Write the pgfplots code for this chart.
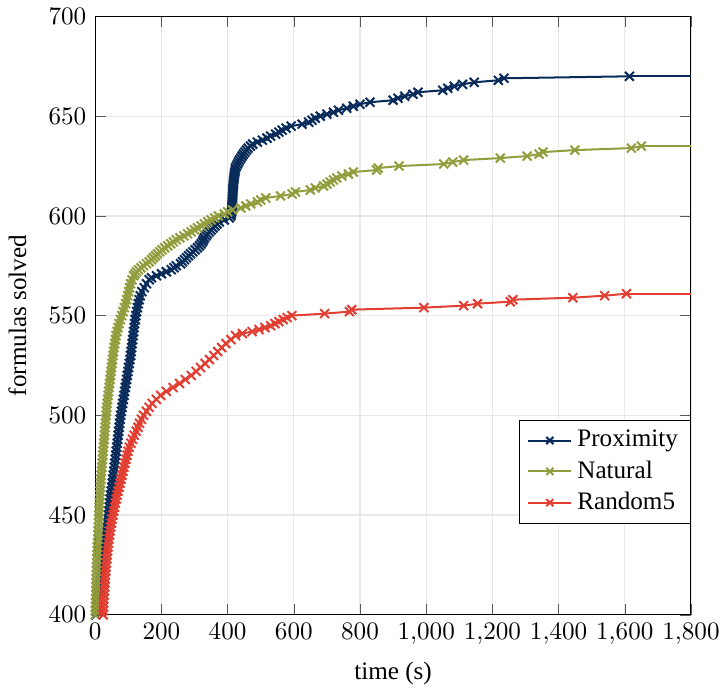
\documentclass[border=0pt]{standalone}
\usepackage{fontspec}
\setmainfont{Liberation Serif}
\usepackage{pgfplots}
\usepackage{pgfplotstable}
\pgfplotsset{compat=1.18}

\definecolor{proxblue}{RGB}{8,43,90}
\definecolor{natgreen}{RGB}{146,157,62}
\definecolor{randred}{RGB}{226,62,50}

% time (s) / formulas solved
\pgfplotstableread{
t n
2 400
3.5 402
5 404
6.5 406
8 408
9.5 410
11 412
12.5 414
14 416
15.5 418
17 420
18.5 422
20 424
21.5 426
23 428
24.5 430
26 432
27.5 434
29 436
30.5 438
32 440
33.5 442
35 444
36.5 446
38 448
39.5 450
41 452
42.5 454
44 456
45.5 458
47 460
48.5 462
50 464
51.5 466
53 468
54.5 470
56 472
57.5 474
59 476
60.5 478
62 480
63.5 482
65 484
66.5 486
68 488
69.5 490
71 492
72.5 494
74 496
75.5 498
77 500
79 502
81 504
83 506
85 508
87 510
89 512
91 514
93 516
95 518
97 520
99 522
101 524
103 526
105 528
107 530
108.5 532
110 534
111.5 536
113 538
114.5 540
116 542
117.5 544
119 546
121 548
123 550
125 552
127.5 554
130 556
133 558
136 560
141 562
148 564
155 566
163 568
170 569
185 570
200 571
215 572
230 573
238 574
245 575
258 576
264 577
270 578
276 579
282 580
288 581
295 582
302 583
309 584
315 585
320 586
324 587
327 588
330 589
335 590
339 591
345 592
350 593
356 594
362 595
368 596
375 597
390 598
405 599
410 600
411 601
412 602
412.5 603
413 604
413.5 605
414 606
414 607
414.5 608
415 609
415 610
415.5 611
415.5 612
416 613
416.5 614
417 615
417.5 616
418 617
418.5 618
419 619
420 620
421 621
422 622
423 623
424 624
427 625
430 626
433 627
436 628
440 629
444 630
448 631
452 632
457 633
462 634
469 635
476 636
490 637
505 638
519 639
530 640
545 641
555 642
565 643
577 644
592 645
625 646
645 647
655 648
665 649
680 650
700 651
720 652
735 653
760 654
780 655
800 656
830 657
900 658
915 659
935 660
960 661
975 662
1050 663
1065 664
1085 665
1110 666
1145 667
1218 668
1235 669
1614 670
}\proximity

\pgfplotstableread{
t n
0 400
0.5 402
1 404
1 406
1.5 408
2 410
2 412
2.5 414
3 416
3 418
3.5 420
4 422
4 424
4.5 426
5 428
5.5 430
6 432
6.5 434
7 436
8 438
8.5 440
9 442
9.5 444
10 446
10.5 448
11 450
11.5 452
12 454
13 456
13.5 458
14 460
15 462
15.5 464
16 466
17 468
18 470
19 472
20 474
21 476
22 478
23 480
24 482
25 484
26 486
27 488
28 490
29 492
30 494
31 496
32 498
33 500
34 502
35 504
36 506
37.5 508
39 510
40.5 512
42 514
43.5 516
45 518
46.5 520
48 522
49.5 524
51 526
52.5 528
54 530
55.5 532
57 534
59 536
61 538
63 540
66 542
69 544
72 546
76 548
80 550
84 552
88 554
92 556
95 558
98 560
101 562
104 564
107 566
111 568
116 570
120 571
125 572
131 573
138 574
146 575
155 576
163 577
170 578
176 579
182 580
188 581
195 582
202 583
210 584
219 585
228 586
236 587
245 588
256 589
268 590
279 591
290 592
300 593
309 594
320 595
330 596
340 597
350 598
361 599
372 600
390 601
400 602
415 603
440 604
455 605
470 606
490 607
500 608
515 609
560 610
595 611
605 612
650 613
665 614
690 615
700 616
710 617
720 618
730 619
745 620
765 621
780 622
850 623
855 624
918 625
1053 626
1080 627
1113 628
1224 629
1305 630
1341 631
1353 632
1449 633
1620 634
1650 635
}\natural

\pgfplotstableread{
t n
24 400
24.5 402
25 404
25.5 406
26 408
27 410
28 412
29 414
29.5 416
30 418
31 420
32 422
33 424
34 426
35 428
36 430
37.5 432
39 434
40 436
41.5 438
43 440
45 442
47 444
49 446
51 448
54 450
56 452
58.5 454
61 456
63.5 458
66 460
69 462
72 464
75 466
78 468
81 470
84 472
87 474
90 476
93 478
96 480
99 482
103 484
108 486
113 488
118 490
124 492
129 494
134 496
140 498
146 500
155 502
163 504
172 506
185 508
198 510
215 512
235 514
255 516
272 518
290 520
305 522
318 524
332 526
345 528
358 530
370 532
382 534
395 536
410 538
424 540
445 541
474 542
495 543
513 544
530 545
543 546
555 547
568 548
580 549
594 550
693 551
768 552
775 553
993 554
1113 555
1155 556
1254 557
1262 558
1443 559
1539 560
1605 561
}\randomfive

\begin{document}
\begin{tikzpicture}
\begin{axis}[
    width=237pt, height=238pt,
    scale only axis,
    xmin=0, xmax=1800,
    ymin=400, ymax=700,
    xtick={0,200,...,1800},
    ytick={400,450,...,700},
    grid=major,
    grid style={gray!18, line width=0.5pt},
    tick style={gray!70!black},
    xlabel={time (s)},
    ylabel={formulas solved},
    ylabel style={yshift=2pt},
    legend cell align=left,
    legend style={at={(1,0.152)}, anchor=south east, draw=black},
    legend image post style={mark size=2pt},
    every axis plot/.append style={thick, mark=x, mark size=2.5pt},
]
\addplot[color=proxblue] table[x=t, y=n] {\proximity};
\addlegendentry{Proximity}
\addplot[color=natgreen] table[x=t, y=n] {\natural};
\addlegendentry{Natural}
\addplot[color=randred] table[x=t, y=n] {\randomfive};
\addlegendentry{Random5}
% flat tails to the end of the run
\addplot[color=proxblue, mark=none, forget plot] coordinates {(1614,670) (1800,670)};
\addplot[color=natgreen, mark=none, forget plot] coordinates {(1650,635) (1800,635)};
\addplot[color=randred, mark=none, forget plot] coordinates {(1605,561) (1800,561)};
\end{axis}
\end{tikzpicture}
\end{document}
